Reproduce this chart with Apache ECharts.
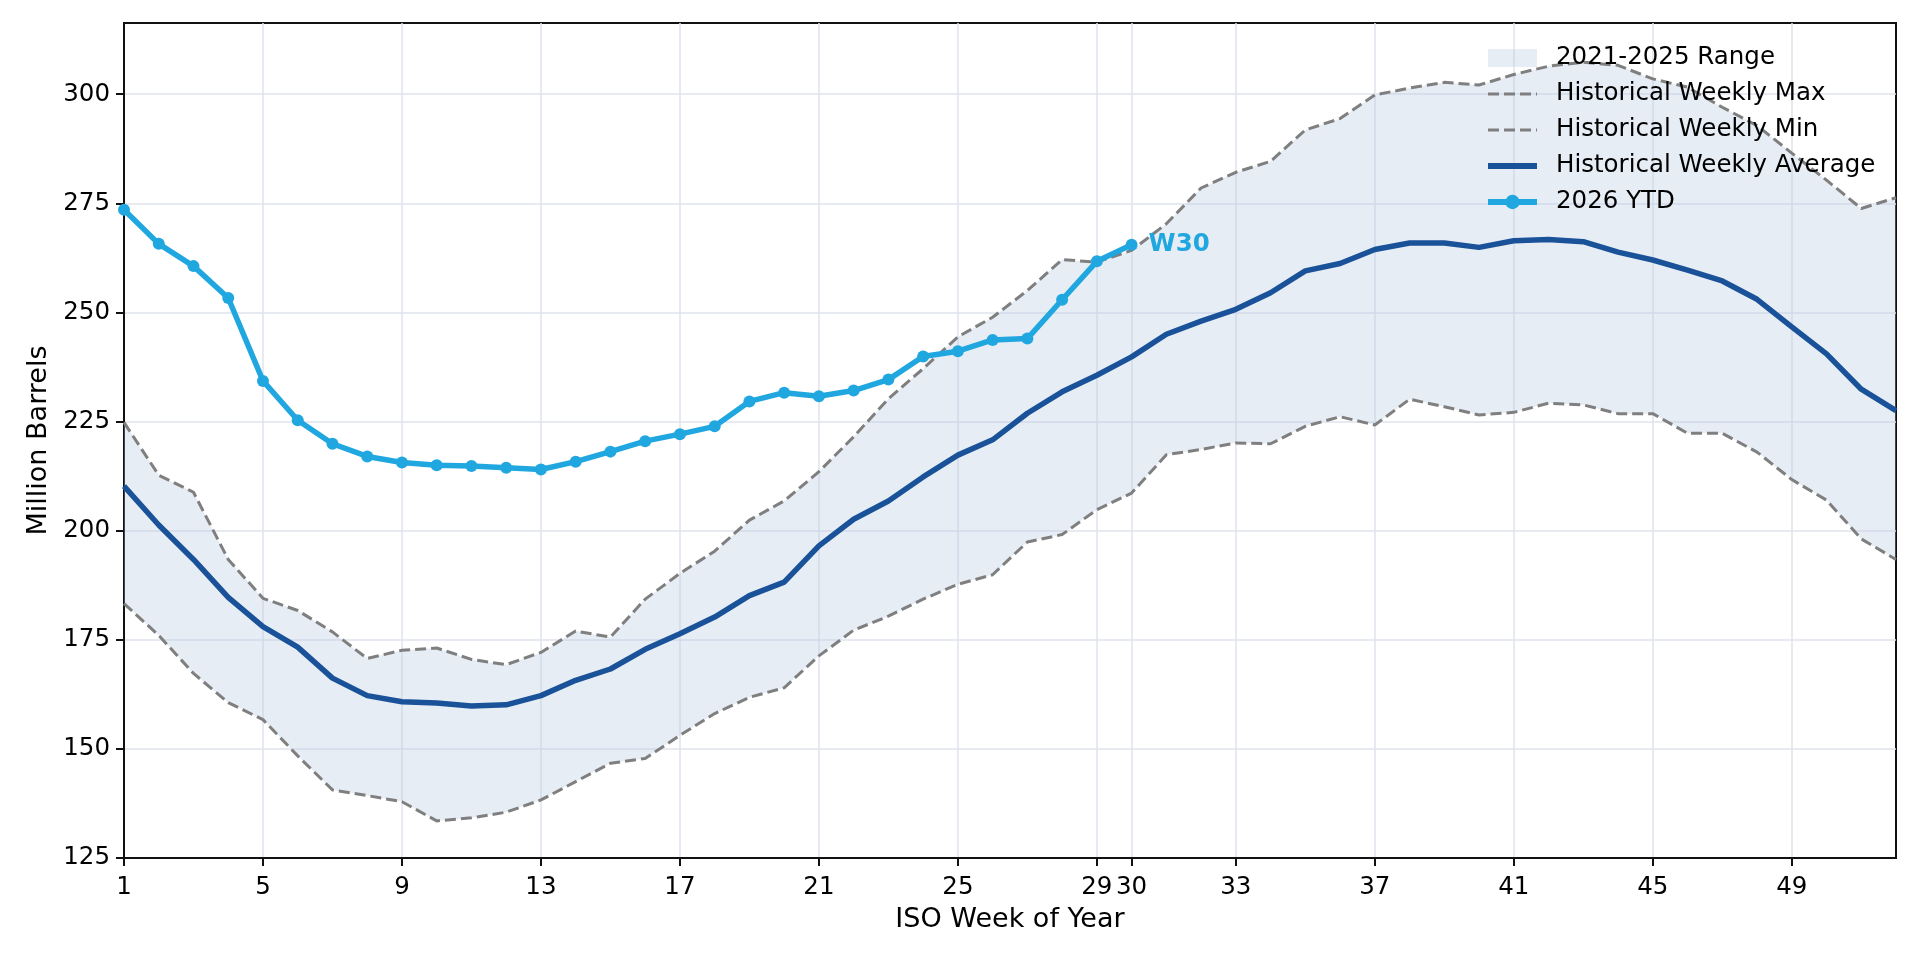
<!DOCTYPE html>
<html>
<head>
<meta charset="utf-8">
<title>Weekly Stocks vs 2021-2025 Range</title>
<script src="https://cdn.jsdelivr.net/npm/echarts@6/dist/echarts.min.js"></script>
<style>
html, body { margin: 0; padding: 0; background: #ffffff; }
#chart { width: 1920px; height: 960px; }
</style>
</head>
<body>
<div id="chart"></div>
<script>
// ISO weeks shown on the x axis
var WEEKS = [1, 2, 3, 4, 5, 6, 7, 8, 9, 10, 11, 12, 13, 14, 15, 16, 17, 18, 19, 20,
    21, 22, 23, 24, 25, 26, 27, 28, 29, 30, 31, 32, 33, 34, 35, 36, 37, 38, 39, 40,
    41, 42, 43, 44, 45, 46, 47, 48, 49, 50, 51, 52];
var X_TICKS = [1, 5, 9, 13, 17, 21, 25, 29, 30, 33, 37, 41, 45, 49];
var Y_TICKS = [125, 150, 175, 200, 225, 250, 275, 300];

// million barrels
var HIST_MAX = [224.8, 212.7, 208.8, 193.4, 184.5, 181.7, 176.8, 170.7, 172.6, 173.1,
    170.5, 169.3, 172.1, 177.0, 175.6, 184.3, 190.2, 195.3, 202.4, 206.8,
    213.5, 221.5, 230.2, 237.1, 244.4, 248.9, 255.0, 262.1, 261.5, 264.2,
    270.3, 278.5, 282.1, 284.6, 291.8, 294.4, 299.8, 301.4, 302.7, 302.1,
    304.5, 306.4, 307.3, 306.6, 303.5, 301.6, 297.0, 292.8, 286.5, 280.3,
    273.8, 276.3];
var HIST_MIN = [183.3, 176.0, 167.3, 160.6, 156.7, 148.4, 140.6, 139.3, 137.9, 133.5,
    134.2, 135.5, 138.3, 142.5, 146.7, 147.8, 153.1, 158.1, 161.8, 164.0,
    171.3, 177.2, 180.4, 184.3, 187.7, 189.9, 197.4, 199.1, 204.8, 208.6,
    217.4, 218.6, 220.1, 219.9, 223.9, 226.1, 224.2, 230.1, 228.4, 226.5,
    227.1, 229.2, 228.8, 226.8, 226.8, 222.3, 222.3, 218.0, 211.7, 207.0,
    198.1, 193.4];
var HIST_AVG = [210.2, 201.3, 193.4, 184.7, 178.0, 173.3, 166.2, 162.2, 160.8, 160.5,
    159.8, 160.1, 162.2, 165.7, 168.3, 172.8, 176.4, 180.2, 185.1, 188.2,
    196.5, 202.6, 206.8, 212.3, 217.3, 220.8, 226.9, 231.8, 235.6, 239.8,
    245.0, 248.0, 250.7, 254.5, 259.5, 261.2, 264.4, 265.9, 265.9, 264.9,
    266.4, 266.7, 266.2, 263.8, 262.0, 259.7, 257.2, 253.0, 246.7, 240.5,
    232.4, 227.5];
var YTD_2026 = [273.5, 265.7, 260.6, 253.3, 234.3, 225.3, 219.9, 217.0, 215.6, 215.0,
    214.8, 214.4, 214.0, 215.8, 218.1, 220.5, 222.1, 223.9, 229.6, 231.6,
    230.8, 232.1, 234.6, 239.9, 241.1, 243.7, 244.0, 252.9, 261.7, 265.5];

var FONT = 'DejaVu Sans';
var FS = 24.5;       // ticks, legend, annotation
var FS_NAME = 27;    // axis titles
var C_YTD = '#20a7e0';
var C_AVG = '#1a5299';
var C_DASH = '#7f7f7f';
var C_FILL = 'rgba(176,196,222,0.3)';
var C_GRID = '#dfe4ed';
var DASH = [11, 5];

var chart = echarts.init(document.getElementById('chart'));

function isTick(value)
{
    return X_TICKS.indexOf(Number(value)) >= 0;
}

var band = HIST_MAX.map(function(v, i) { return +(v - HIST_MIN[i]).toFixed(2); });

var ytd_data = YTD_2026.map(function(v, i) {
    if (i == YTD_2026.length - 1) {
        return {
            value: v,
            label: {
                show: true,
                position: 'right',
                distance: 11,
                formatter: 'W' + WEEKS[i],
                color: C_YTD,
                fontFamily: FONT,
                fontWeight: 'bold',
                fontSize: FS
            }
        };
    }
    return v;
});

var option = {
    animation: false,
    backgroundColor: '#ffffff',
    textStyle: { fontFamily: FONT },
    grid: {
        left: 124, right: 24, top: 23, bottom: 102,
        show: true,
        borderColor: '#111111',
        borderWidth: 2
    },
    legend: {
        orient: 'vertical',
        left: 1480,
        top: 40,
        align: 'left',
        itemWidth: 49,
        itemHeight: 18,
        itemGap: 10,
        textStyle: {
            fontFamily: FONT,
            fontSize: FS,
            color: '#000000',
            lineHeight: 26,
            padding: [0, 0, 0, 14]
        },
        data: [
            { name: '2021-2025 Range', icon: 'rect', itemStyle: { color: C_FILL, borderWidth: 0 } },
            { name: 'Historical Weekly Max', itemStyle: { opacity: 0 },
                lineStyle: { color: C_DASH, width: 3, type: DASH } },
            { name: 'Historical Weekly Min', itemStyle: { opacity: 0 },
                lineStyle: { color: C_DASH, width: 3, type: DASH } },
            { name: 'Historical Weekly Average', itemStyle: { opacity: 0 },
                lineStyle: { color: C_AVG, width: 6 } },
            { name: '2026 YTD', lineStyle: { color: C_YTD, width: 6 } }
        ]
    },
    xAxis: {
        type: 'category',
        data: WEEKS,
        boundaryGap: false,
        name: 'ISO Week of Year',
        nameLocation: 'middle',
        nameGap: 48,
        nameTextStyle: { fontFamily: FONT, fontSize: FS_NAME, color: '#000000' },
        axisLine: { show: true, lineStyle: { color: '#111111', width: 2 } },
        axisTick: { show: true, length: 8, interval: function(i, v) { return isTick(v); },
            lineStyle: { color: '#111111', width: 2 } },
        axisLabel: { interval: function(i, v) { return isTick(v); }, margin: 17,
            fontFamily: FONT, fontSize: FS, color: '#000000' },
        splitLine: { show: true, interval: function(i, v) { return isTick(v); },
            lineStyle: { color: C_GRID, width: 1.5 } }
    },
    yAxis: {
        type: 'value',
        min: 125,
        max: 316.3,
        interval: 25,
        name: 'Million Barrels',
        nameLocation: 'middle',
        nameGap: 72,
        nameTextStyle: { fontFamily: FONT, fontSize: FS_NAME, color: '#000000' },
        axisLine: { show: true, lineStyle: { color: '#111111', width: 2 } },
        axisTick: { show: true, length: 8, customValues: Y_TICKS,
            lineStyle: { color: '#111111', width: 2 } },
        axisLabel: { customValues: Y_TICKS, margin: 14,
            fontFamily: FONT, fontSize: FS, color: '#000000' },
        splitLine: { show: true, lineStyle: { color: C_GRID, width: 1.5 } }
    },
    series: [
        {
            name: 'range_base',
            type: 'line',
            stack: 'range',
            data: HIST_MIN,
            symbol: 'none',
            silent: true,
            lineStyle: { width: 0, opacity: 0 },
            z: 1
        },
        {
            name: '2021-2025 Range',
            type: 'line',
            stack: 'range',
            data: band,
            symbol: 'none',
            silent: true,
            itemStyle: { color: C_FILL },
            lineStyle: { width: 0, opacity: 0 },
            areaStyle: { color: C_FILL, opacity: 1 },
            z: 1
        },
        {
            name: 'Historical Weekly Max',
            type: 'line',
            data: HIST_MAX,
            symbol: 'none',
            itemStyle: { color: C_DASH },
            lineStyle: { color: C_DASH, width: 3, type: DASH },
            z: 3
        },
        {
            name: 'Historical Weekly Min',
            type: 'line',
            data: HIST_MIN,
            symbol: 'none',
            itemStyle: { color: C_DASH },
            lineStyle: { color: C_DASH, width: 3, type: DASH },
            z: 3
        },
        {
            name: 'Historical Weekly Average',
            type: 'line',
            data: HIST_AVG,
            symbol: 'none',
            itemStyle: { color: C_AVG },
            lineStyle: { color: C_AVG, width: 5.5 },
            z: 4
        },
        {
            name: '2026 YTD',
            type: 'line',
            data: ytd_data,
            symbol: 'circle',
            symbolSize: 12,
            itemStyle: { color: C_YTD },
            lineStyle: { color: C_YTD, width: 5.5 },
            z: 5
        }
    ]
};

chart.setOption(option);
</script>
</body>
</html>
